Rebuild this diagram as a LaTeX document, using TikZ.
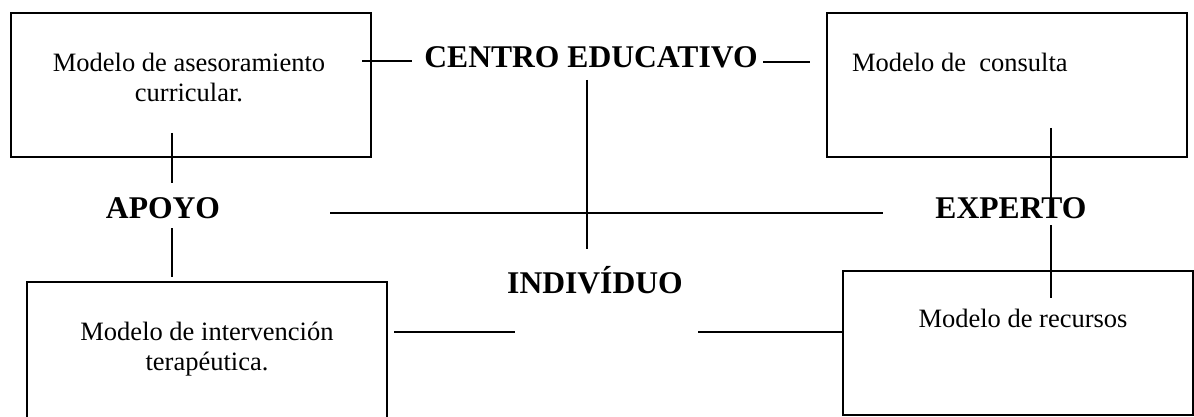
\documentclass[tikz,border=0pt]{standalone}
\usepackage{fontspec}
\setmainfont{Liberation Serif}
\tikzset{
  box/.style={draw=black, line width=1.7pt, rectangle, inner sep=0pt, outer sep=0pt},
  link/.style={draw=black, line width=1.7pt},
  txt/.style={inner sep=0pt, outer sep=0pt, font=\fontsize{26.5}{30}\selectfont},
  lab/.style={inner sep=0pt, outer sep=0pt, font=\fontsize{31.6}{36}\selectfont\bfseries},
}
\begin{document}
\begin{tikzpicture}[x=1pt,y=-1pt]
\useasboundingbox (0,0) rectangle (1194,417);
\clip (0,0) rectangle (1194,417);
% boxes
\node[box, minimum width=360pt, minimum height=144pt] (b1) at (191,85) {};
\node[box, minimum width=360pt, minimum height=144pt] (b2) at (1007,85) {};
\node[box, minimum width=360pt, minimum height=160pt] (b3) at (207,362) {};
\node[box, minimum width=350pt, minimum height=144pt] (b4) at (1018,343) {};
% box texts (base = baseline of the last line)
\node[txt, anchor=base, align=center] (t1) at (189,102) {Modelo de asesoramiento\\curricular.};
\node[txt, anchor=base west] (t2) at (852,72) {Modelo de\ \ consulta};
\node[txt, anchor=base, align=center] (t3) at (207,370) {Modelo de intervención\\terapéutica.};
\node[txt, anchor=base] (t4) at (1023,327) {Modelo de recursos};
% labels
\node[lab, anchor=base] (centro) at (591,68) {CENTRO EDUCATIVO};
\node[lab, anchor=base] (apoyo) at (163,218) {APOYO};
\node[lab, anchor=base] (experto) at (1011,218) {EXPERTO};
\node[lab, anchor=base] (indiv) at (595,293) {INDIVÍDUO};
% connector end points
\coordinate (a1) at (362,61);  \coordinate (a2) at (412,61);
\coordinate (a3) at (763,62);  \coordinate (a4) at (810,62);
\coordinate (v1) at (587,80);  \coordinate (v2) at (587,249);
\coordinate (h1) at (330,213); \coordinate (h2) at (883,213);
\coordinate (p1) at (172,133); \coordinate (p2) at (172,183);
\coordinate (p3) at (172,228); \coordinate (p4) at (172,277);
\coordinate (e1) at (1051,128); \coordinate (e2) at (1051,200);
\coordinate (e3) at (1051,225); \coordinate (e4) at (1051,298);
\coordinate (i1) at (394,332); \coordinate (i2) at (515,332);
\coordinate (i3) at (698,332);
% connectors
\draw[link] (a1) -- (a2);
\draw[link] (a3) -- (a4);
\draw[link] (v1) -- (v2);
\draw[link] (h1) -- (h2);
\draw[link] (p1) -- (p2);
\draw[link] (p3) -- (p4);
\draw[link] (e1) -- (e2);
\draw[link] (e3) -- (e4);
\draw[link] (i1) -- (i2);
\draw[link] (i3) -- (b4.west |- i3);
\end{tikzpicture}
\end{document}
